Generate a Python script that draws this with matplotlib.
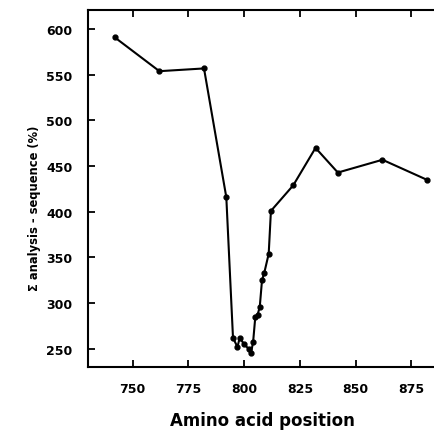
import matplotlib.pyplot as plt

# amino acid position vs. sum(analysis - sequence) in %
position = [742, 762, 782, 792, 795, 797, 798, 800, 802, 803, 804,
            805, 806, 807, 808, 809, 811, 812, 822, 832, 842, 862, 882]
value = [591, 554, 557, 416, 262, 252, 262, 255, 250, 245, 257,
         285, 287, 296, 325, 333, 354, 401, 429, 470, 443, 457, 435]

xticks = [750, 775, 800, 825, 850, 875]
yticks = [250, 300, 350, 400, 450, 500, 550, 600]

plt.rcParams['font.family'] = 'DejaVu Sans'
plt.rcParams['font.weight'] = 'bold'

fig = plt.figure(figsize=(4.35, 4.31), dpi=100)
ax = fig.add_axes([0.2023, 0.146, 0.80, 0.8285])

ax.plot(position, value, color='black', linewidth=1.5,
        marker='o', markersize=3.5)

ax.set_xlim(730, 886)
ax.set_ylim(230, 621)
ax.set_xticks(xticks)
ax.set_yticks(yticks)

ax.tick_params(axis='both', direction='in', length=5, width=1.3,
               labelsize=9)
ax.tick_params(axis='x', top=True, pad=11)
ax.tick_params(axis='y', pad=11)
for lbl in ax.get_xticklabels() + ax.get_yticklabels():
    lbl.set_fontweight('bold')

ax.spines['right'].set_visible(False)
for s in ['left', 'top', 'bottom']:
    ax.spines[s].set_linewidth(1.5)

ax.set_xlabel('Amino acid position', fontsize=12, fontweight='bold',
              labelpad=11)
# y label sits a little below the axes centre in the reference
fig.text(35 / 435, 1 - 208 / 431, '\u03a3 analysis - sequence (%)',
         rotation=90, ha='center', va='center', fontsize=8.3,
         fontweight='bold')

fig.savefig('out.png', dpi=100)
